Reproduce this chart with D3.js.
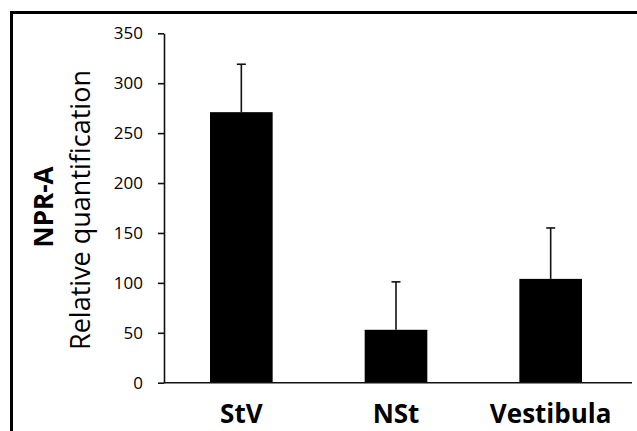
<!DOCTYPE html>
<html>
<head>
<meta charset="utf-8">
<script src="https://cdn.jsdelivr.net/npm/d3@7/dist/d3.min.js"></script>
<style>
  html, body { margin: 0; padding: 0; background: #fff; }
  svg { display: block; }
</style>
</head>
<body>
<svg id="chart" width="637" height="431"></svg>
<script>
const categories = ["StV", "NSt", "Vestibula"];
const means = [271, 53, 104];
const errors = [48, 48, 51];
const yTicks = [0, 50, 100, 150, 200, 250, 300, 350];
const yTitleBold = "NPR-A";
const yTitle = "Relative quantification";

const svg = d3.select("#chart");

// outer frame
svg.append("rect")
  .attr("x", 11.5).attr("y", 12.5)
  .attr("width", 660).attr("height", 460)
  .attr("fill", "none").attr("stroke", "#000").attr("stroke-width", 3);

const x = d3.scaleBand().domain(categories).range([164, 628]).paddingInner(0.595).paddingOuter(0.2975);
const y = d3.scaleLinear().domain([0, 350]).range([382.7, 33.3]);

// bars
svg.selectAll("rect.bar").data(categories).enter().append("rect")
  .attr("class", "bar")
  .attr("x", d => x(d))
  .attr("width", x.bandwidth())
  .attr("y", (d, i) => y(means[i]))
  .attr("height", (d, i) => y(0) - y(means[i]))
  .attr("fill", "#000");

// error bars (upper only)
const eb = svg.selectAll("g.err").data(categories).enter().append("g").attr("class", "err");
eb.append("line")
  .attr("x1", d => x(d) + x.bandwidth() / 2)
  .attr("x2", d => x(d) + x.bandwidth() / 2)
  .attr("y1", (d, i) => y(means[i]))
  .attr("y2", (d, i) => y(means[i] + errors[i]))
  .attr("stroke", "#111").attr("stroke-width", 1.6);
eb.append("line")
  .attr("x1", d => x(d) + x.bandwidth() / 2 - 4.5)
  .attr("x2", d => x(d) + x.bandwidth() / 2 + 4.5)
  .attr("y1", (d, i) => y(means[i] + errors[i]))
  .attr("y2", (d, i) => y(means[i] + errors[i]))
  .attr("stroke", "#111").attr("stroke-width", 1.6);

// y axis
const yAxis = svg.append("g")
  .attr("transform", "translate(164,0)")
  .call(d3.axisLeft(y).tickValues(yTicks).tickSize(6).tickPadding(15).tickSizeOuter(0));
yAxis.select(".domain").attr("stroke", "#111").attr("stroke-width", 1.6);
yAxis.selectAll(".tick line").attr("stroke", "#111").attr("stroke-width", 1.6);
yAxis.selectAll(".tick text")
  .attr("font-family", "'Open Sans', sans-serif")
  .attr("font-size", 17)
  .attr("fill", "#000");

// x axis baseline
svg.append("line")
  .attr("x1", 164).attr("x2", 632)
  .attr("y1", y(0)).attr("y2", y(0))
  .attr("stroke", "#111").attr("stroke-width", 1.6);

// x labels
const xAxis = svg.append("g")
  .attr("transform", `translate(0,${y(0)})`)
  .call(d3.axisBottom(x).tickSize(0).tickPadding(0));
xAxis.select(".domain").remove();
xAxis.selectAll(".tick text")
  .attr("y", 40.5).attr("dy", 0)
  .attr("font-family", "'Open Sans', sans-serif")
  .attr("font-weight", "bold")
  .attr("font-size", 26)
  .attr("fill", "#000");

// y titles
svg.append("text")
  .attr("transform", "translate(53,207) rotate(-90)")
  .attr("text-anchor", "middle")
  .attr("font-family", "'Open Sans', sans-serif")
  .attr("font-weight", "bold")
  .attr("font-size", 26)
  .text(yTitleBold);
svg.append("text")
  .attr("transform", "translate(90,210) rotate(-90)")
  .attr("text-anchor", "middle")
  .attr("font-family", "'Open Sans', sans-serif")
  .attr("font-size", 27)
  .text(yTitle);
</script>
</body>
</html>
